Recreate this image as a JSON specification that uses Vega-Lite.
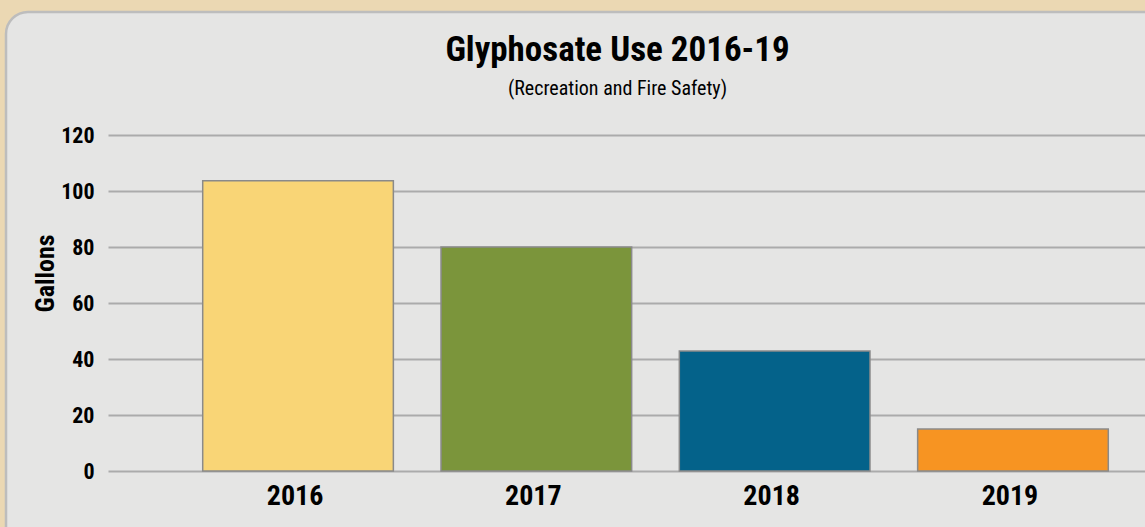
{
  "$schema": "https://vega.github.io/schema/vega-lite/v6.json",
  "width": 1299,
  "height": 560,
  "autosize": {"type": "none"},
  "padding": {"left": 6, "top": 12, "right": -160, "bottom": -45},
  "background": "#EBD8B3",
  "title": {
    "text": "Glyphosate Use 2016-19",
    "subtitle": "(Recreation and Fire Safety)",
    "anchor": "middle",
    "frame": "group",
    "dx": -38,
    "offset": -87,
    "font": "Roboto Condensed",
    "fontSize": 35,
    "fontWeight": "bold",
    "color": "#000000",
    "subtitleFont": "Roboto Condensed",
    "subtitleFontSize": 20,
    "subtitleColor": "#000000",
    "subtitlePadding": 11
  },
  "config": {
    "view": {"fill": "#E5E5E4", "stroke": "#BDBDBD", "strokeWidth": 2.5, "cornerRadius": 22}
  },
  "data": {
    "values": [
      {"year": "2016", "gallons": 103.7},
      {"year": "2017", "gallons": 80},
      {"year": "2018", "gallons": 42.9},
      {"year": "2019", "gallons": 15}
    ]
  },
  "mark": {"type": "bar", "stroke": "#8A8A8A", "strokeWidth": 1.5},
  "encoding": {
    "x": {
      "field": "year",
      "type": "nominal",
      "scale": {"paddingInner": 0.2, "paddingOuter": 0.8254},
      "axis": {
        "title": null,
        "orient": "bottom",
        "offset": -101,
        "domain": false,
        "ticks": false,
        "grid": false,
        "labelAngle": 0,
        "labelOffset": -3,
        "labelFont": "Roboto Condensed",
        "labelFontSize": 28,
        "labelFontWeight": "bold",
        "labelColor": "#000000",
        "labelPadding": 11
      }
    },
    "y": {
      "field": "gallons",
      "type": "quantitative",
      "scale": {"domain": [-36.07, 163.93], "nice": false, "zero": false},
      "axis": {
        "values": [0, 20, 40, 60, 80, 100, 120],
        "orient": "left",
        "offset": -102,
        "grid": false,
        "domain": false,
        "tickSize": -1197,
        "tickColor": "#ABABAB",
        "tickWidth": 2,
        "labelPadding": 1211,
        "labelFont": "Roboto Condensed",
        "labelFontSize": 22,
        "labelFontWeight": "bold",
        "labelColor": "#000000",
        "title": "Gallons",
        "titleFont": "Roboto Condensed",
        "titleFontSize": 26,
        "titleFontWeight": "bold",
        "titleColor": "#000000",
        "titleX": -55,
        "titleY": 261,
        "titleBaseline": "alphabetic",
        "titleAngle": -90
      }
    },
    "y2": {"datum": 0},
    "color": {
      "field": "year",
      "type": "nominal",
      "scale": {
        "domain": ["2016", "2017", "2018", "2019"],
        "range": ["#F9D576", "#7B953B", "#04628A", "#F79422"]
      },
      "legend": null
    }
  }
}
